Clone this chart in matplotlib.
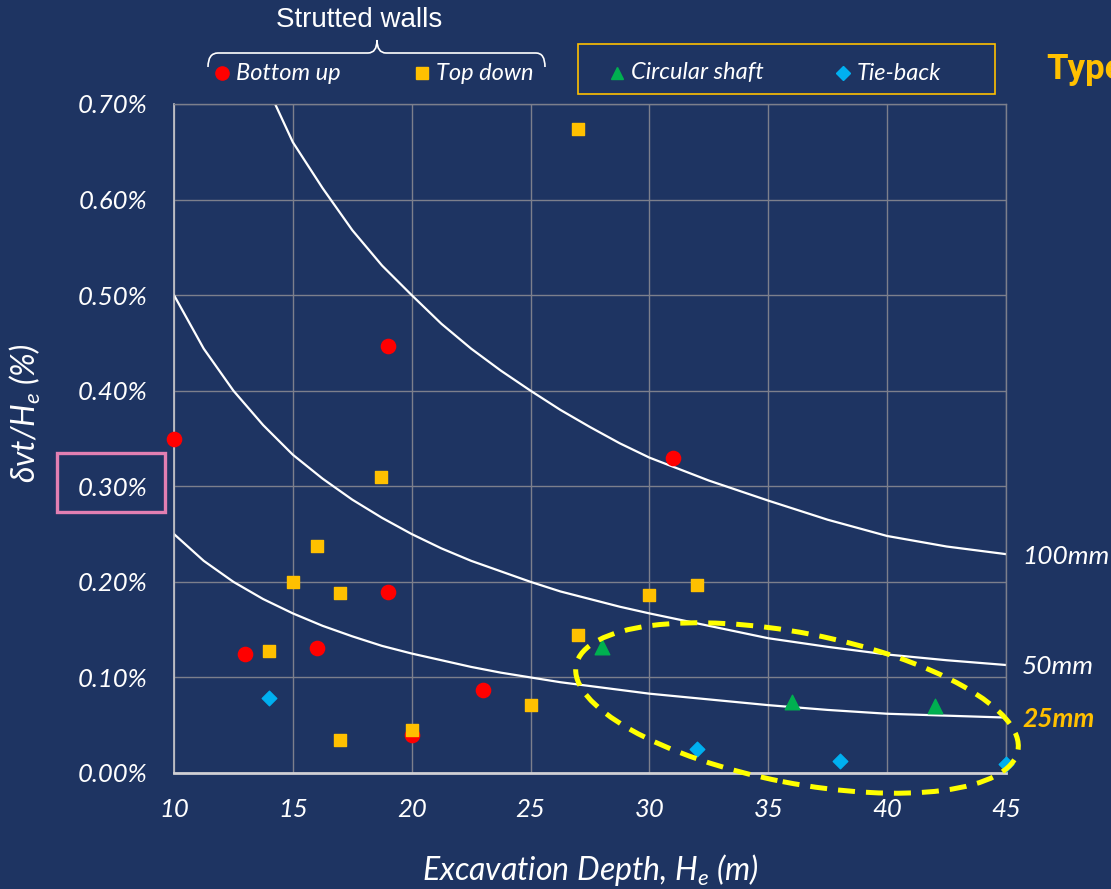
import numpy as np
import matplotlib.pyplot as plt
from matplotlib.patches import Ellipse, Rectangle, PathPatch
from matplotlib.path import Path
from matplotlib.lines import Line2D
from matplotlib.ticker import FuncFormatter, MultipleLocator

# --- data (delta_vt / He in %) ---
bottom_up_depth = [10, 13, 16, 19, 19, 20, 23, 31]
bottom_up_ratio = [0.350, 0.124, 0.131, 0.447, 0.189, 0.040, 0.087, 0.330]

top_down_depth = [27, 18.7, 16, 15, 17, 14, 17, 20, 25, 27, 30, 32]
top_down_ratio = [0.674, 0.310, 0.238, 0.200, 0.188, 0.128, 0.035, 0.045, 0.071, 0.144, 0.186, 0.197]

shaft_depth = [28, 36, 42]
shaft_ratio = [0.132, 0.074, 0.070]

tieback_depth = [14, 32, 38, 45]
tieback_ratio = [0.078, 0.025, 0.013, 0.009]

# reference lines
curve_depth = [10, 11.25, 12.5, 13.75, 15, 16.25, 17.5, 18.75, 20, 21.25, 22.5, 23.75, 25,
               26.25, 27.5, 28.75, 30, 32.5, 35, 37.5, 40, 42.5, 45]
curve_25mm = [0.250, 0.222, 0.200, 0.182, 0.167, 0.154, 0.143, 0.133, 0.125, 0.118, 0.111, 0.105,
              0.100, 0.095, 0.091, 0.087, 0.083, 0.077, 0.071, 0.066, 0.062, 0.060, 0.058]
curve_50mm = [0.500, 0.444, 0.400, 0.364, 0.333, 0.308, 0.286, 0.267, 0.250, 0.235, 0.222, 0.211,
              0.200, 0.190, 0.182, 0.174, 0.167, 0.154, 0.141, 0.132, 0.124, 0.118, 0.113]
curve_100mm = [np.nan, np.nan, 0.800, 0.727, 0.660, 0.612, 0.568, 0.531, 0.500, 0.470, 0.444, 0.421,
               0.400, 0.380, 0.362, 0.345, 0.330, 0.306, 0.285, 0.265, 0.248, 0.237, 0.229]

BG = '#1e3462'
ORANGE = '#ffc000'
FONT = ['Lato', 'DejaVu Sans']

plt.rcParams['font.family'] = FONT
plt.rcParams['mathtext.fontset'] = 'custom'
plt.rcParams['mathtext.it'] = 'Lato:italic'
plt.rcParams['mathtext.rm'] = 'Lato'

W, H = 1111, 889
fig = plt.figure(figsize=(W / 100, H / 100), dpi=100, facecolor=BG)
ax = fig.add_axes([174 / W, 1 - 773 / H, 832 / W, 669 / H], facecolor=BG)


def px(x, y):
    # image pixel (from top-left) -> figure inches
    return x / 100, (H - y) / 100


# grid / axes
ax.set_xlim(10, 45)
ax.set_ylim(0, 0.70)
ax.xaxis.set_major_locator(MultipleLocator(5))
ax.yaxis.set_major_locator(MultipleLocator(0.1))
ax.yaxis.set_major_formatter(FuncFormatter(lambda v, p: f'{v:.2f}%'))
ax.grid(True, color='#7c7f8c', linewidth=1.0)
ax.set_axisbelow(True)
for side in ['top', 'right']:
    ax.spines[side].set_color('#7c7f8c')
    ax.spines[side].set_linewidth(1.0)
ax.spines['left'].set_color('#c8c8cc')
ax.spines['left'].set_linewidth(1.2)
ax.spines['bottom'].set_color('#d0d0d4')
ax.spines['bottom'].set_linewidth(2.0)
ax.tick_params(length=0, colors='white', labelsize=18.5)
ax.tick_params(axis='y', pad=19)
ax.tick_params(axis='x', pad=18)
for lab in ax.get_xticklabels() + ax.get_yticklabels():
    lab.set_fontstyle('italic')

ax.set_xlabel('Excavation Depth, H$_e$ (m)', color='white', fontsize=23,
              fontstyle='italic')
ax.xaxis.set_label_coords(0.5, -0.118)
ax.set_ylabel('δvt/H$_e$ (%)', color='white', fontsize=23, fontstyle='italic')
ax.yaxis.set_label_coords(-0.158, 0.538)

# reference curves
for vals in [curve_25mm, curve_50mm, curve_100mm]:
    ax.plot(curve_depth, vals, color='white', linewidth=1.6, zorder=2)

fig.text(1022 / W, 1 - 557 / H, '100mm', color='white', fontsize=19, fontstyle='italic', va='center')
fig.text(1022 / W, 1 - 667 / H, '50mm', color='white', fontsize=19, fontstyle='italic', va='center')
fig.text(1022 / W, 1 - 719 / H, '25mm', color=ORANGE, fontsize=19, fontstyle='italic',
         fontweight='bold', va='center')

# data points
ax.scatter(bottom_up_depth, bottom_up_ratio, marker='o', s=105, color='#ff0000', zorder=4, clip_on=False)
ax.scatter(top_down_depth, top_down_ratio, marker='s', s=85, color=ORANGE, zorder=4, clip_on=False)
ax.scatter(shaft_depth, shaft_ratio, marker='^', s=110, color='#00b050', zorder=4, clip_on=False)
ax.scatter(tieback_depth, tieback_ratio, marker='D', s=55, color='#00b0f0', zorder=4, clip_on=False)

# highlight ellipse
ell = Ellipse(px(797, 708), 4.50, 1.50, angle=-11, fill=False, edgecolor='#ffff00',
              linewidth=3.6, linestyle=(0, (3.4, 2.2)), transform=fig.dpi_scale_trans, zorder=5)
fig.add_artist(ell)

# pink box around 0.30% label
fig.add_artist(Rectangle(px(57, 512), 1.08, 0.59, fill=False, edgecolor='#e27fb2',
                         linewidth=2.4, transform=fig.dpi_scale_trans))


# legend entries
def legend_entry(x, y, marker, color, size, label):
    fig.add_artist(Line2D([px(x, y)[0]], [px(x, y)[1]], marker=marker, color=color,
                          markersize=size, linestyle='none', transform=fig.dpi_scale_trans))
    fig.text((x + 14) / W, 1 - y / H, label, color='white', fontsize=17,
             fontstyle='italic', va='center')


legend_entry(222, 73, 'o', '#ff0000', 9.5, 'Bottom up')
legend_entry(422, 73, 's', ORANGE, 9, 'Top down')
legend_entry(617, 73, '^', '#00b050', 9, 'Circular shaft')
legend_entry(843, 73, 'D', '#00b0f0', 7, 'Tie-back')

fig.add_artist(Rectangle(px(578, 94), 4.17, 0.50, fill=False, edgecolor=ORANGE,
                         linewidth=1.2, transform=fig.dpi_scale_trans))

# brace for strutted walls
verts = [px(208, 67), px(208, 53), px(218, 53),
         px(368, 53), px(377, 53), px(377, 40),
         px(377, 53), px(386, 53), px(536, 53),
         px(545, 53), px(545, 67)]
codes = [Path.MOVETO, Path.CURVE3, Path.CURVE3,
         Path.LINETO, Path.CURVE3, Path.CURVE3,
         Path.CURVE3, Path.CURVE3, Path.LINETO,
         Path.CURVE3, Path.CURVE3]
fig.add_artist(PathPatch(Path(verts, codes), fill=False, edgecolor='white', linewidth=1.2,
                         transform=fig.dpi_scale_trans))
fig.text(359 / W, 1 - 20 / H, 'Strutted walls', color='white', fontsize=20,
         family=['Liberation Sans', 'DejaVu Sans'], ha='center', va='center')

# heading cut off at the right edge, as in the source slide
fig.text(1046 / W, 1 - 69 / H, 'Type', color=ORANGE, fontsize=25, fontweight='bold',
         family=['Roboto', 'DejaVu Sans'], va='center')

fig.savefig('out.png', dpi=100, facecolor=BG)
